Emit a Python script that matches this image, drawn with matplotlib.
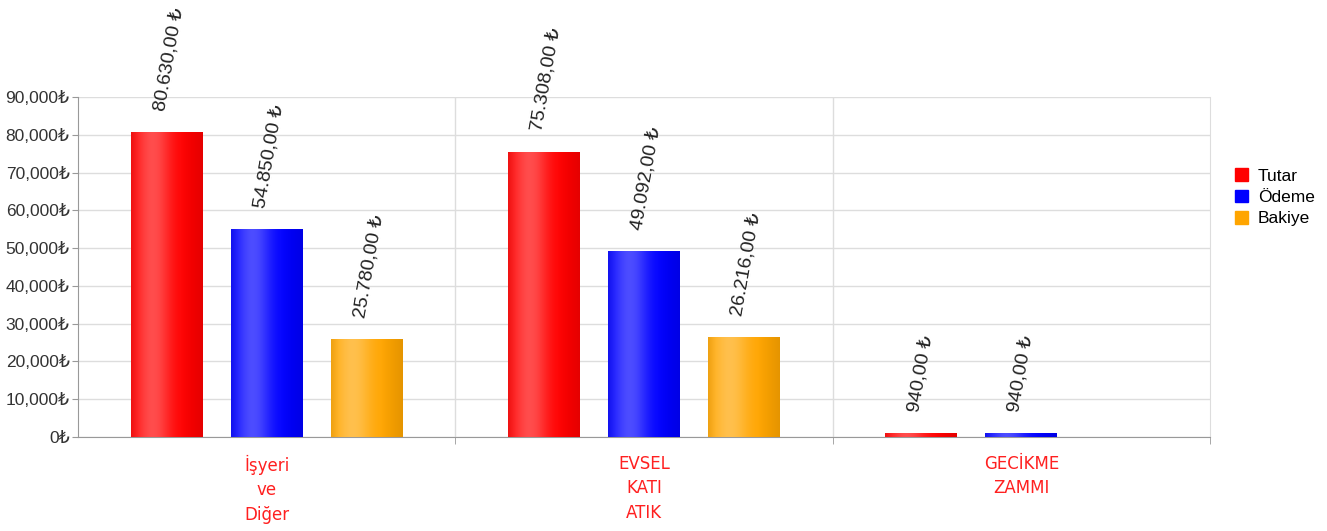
import numpy as np
import matplotlib
matplotlib.use('Agg')
import matplotlib.pyplot as plt
from matplotlib.patches import Patch
from matplotlib.colors import to_rgb

categories = ['İşyeri\nve\nDiğer', 'EVSEL\nKATI\nATIK', 'GECİKME\nZAMMI']
series = ['Tutar', 'Ödeme', 'Bakiye']
tutar = [80630, 75308, 940]
odeme = [54850, 49092, 940]
bakiye = [25780, 26216, 0]
colors = ['#ff0000', '#0000ff', '#ffa500']
yticks = [0, 10000, 20000, 30000, 40000, 50000, 60000, 70000, 80000, 90000]

plt.rcParams['font.family'] = ['Liberation Sans', 'DejaVu Sans']

fig = plt.figure(figsize=(13.27, 5.31), dpi=100)
ax = fig.add_axes([78/1327, 94/531, 1132/1327, 340/531])

x = np.arange(len(categories))
width = 0.19
offsets = [-0.265, 0, 0.265]


def gradient(color):
    # horizontal shading: light streak left of centre, slightly darker edges
    base = np.array(to_rgb(color))
    t = np.linspace(0, 1, 64)
    light = 0.30 * np.exp(-((t - 0.3) / 0.26) ** 2)
    dark = 0.10 * np.clip((t - 0.7) / 0.3, 0, 1) + 0.06 * np.clip((0.1 - t) / 0.1, 0, 1)
    rgb = base[None, :] + (1 - base[None, :]) * light[:, None]
    rgb = rgb * (1 - dark[:, None])
    return np.clip(rgb, 0, 1)[None, :, :]


def fmt_tr(v):
    s = f"{v:,.2f}"
    return s.replace(',', '#').replace('.', ',').replace('#', '.') + ' ₺'


for vals, col, off in zip([tutar, odeme, bakiye], colors, offsets):
    bars = ax.bar(x + off, vals, width, color=col, zorder=3)
    for b, v in zip(bars, vals):
        if v <= 0:
            continue
        x0 = b.get_x()
        ax.imshow(gradient(col), extent=[x0, x0 + width, 0, v], aspect='auto',
                  zorder=3.5, interpolation='bilinear')
        ax.annotate(fmt_tr(v), (x0 + width / 2, v), xytext=(-7, 22),
                    textcoords='offset pixels', rotation=80, rotation_mode='anchor',
                    ha='left', va='center', fontsize=14, color='#222222')

ax.set_xlim(-0.5, 2.5)
ax.set_ylim(0, 90000)
ax.set_yticks(yticks)
ax.set_yticklabels([f"{v:,}₺" for v in yticks], fontsize=12.5, color='#333333')
ax.set_xticks(x)
ax.set_xticklabels(categories, fontsize=12, color='#ff2020',
                   family=['DejaVu Sans'], linespacing=1.45)
ax.tick_params(axis='x', length=0, pad=13)
ax.tick_params(axis='y', length=4, color='#999999', pad=2)
for v in [0.5, 1.5]:
    ax.axvline(v, color='#dddddd', lw=1, zorder=1)
ax.set_xticks([0.5, 1.5, 2.5], minor=True)
ax.tick_params(axis='x', which='minor', length=5, color='#999999')
ax.grid(axis='y', color='#dddddd', lw=1, zorder=1)
ax.set_axisbelow(True)
ax.spines['top'].set_visible(False)
ax.spines['right'].set_color('#dddddd')
ax.spines['left'].set_color('#999999')
ax.spines['bottom'].set_color('#999999')

handles = [Patch(color=c) for c in colors]
ax.legend(handles, series, loc='center left', bbox_to_anchor=(1.008, 0.705),
          frameon=False, fontsize=12.5, handlelength=0.75, handleheight=0.75,
          handletextpad=0.6, labelspacing=0.35)

fig.savefig('out.png', dpi=100)
